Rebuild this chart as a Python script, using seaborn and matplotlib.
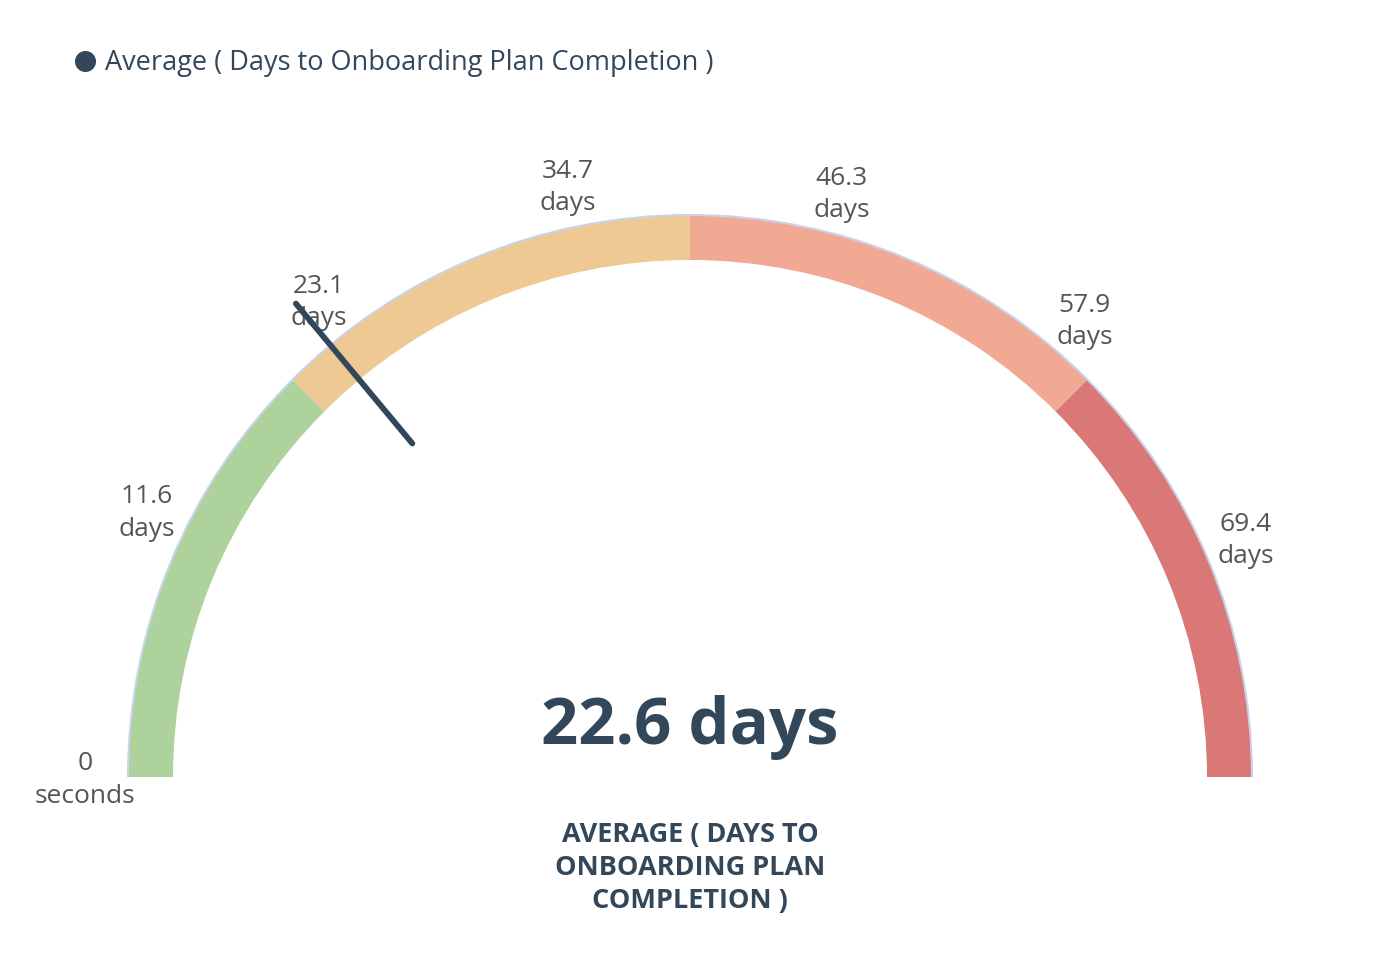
import numpy as np
import seaborn as sns
import matplotlib.pyplot as plt
from matplotlib.patches import Wedge, Arc

# data
gauge_min = 0
gauge_max = 81.0
band_edges = [0, 20.25, 40.5, 60.75, 81.0]
band_colors = ["#aed29b", "#efc993", "#f1a993", "#d97876"]
tick_values = [0, 11.6, 23.1, 34.7, 46.3, 57.9, 69.4]
tick_labels = ["0\nseconds", "11.6\ndays", "23.1\ndays", "34.7\ndays",
               "46.3\ndays", "57.9\ndays", "69.4\ndays"]
value = 22.6
value_label = "22.6 days"
series_name = "Average ( Days to Onboarding Plan Completion )"
title = "AVERAGE ( DAYS TO\nONBOARDING PLAN\nCOMPLETION )"

sns.set_theme(style="white")
plt.rcParams["font.family"] = ["Open Sans", "DejaVu Sans"]

navy = "#33475b"
grey = "#555555"

fig = plt.figure(figsize=(13.82, 9.6), dpi=100)
ax = fig.add_axes([0, 0, 1, 1])
ax.set_xlim(0, 1382)
ax.set_ylim(0, 960)
ax.set_aspect("equal")
ax.axis("off")

cx, cy = 690, 183
r_out, thick = 562, 45


def to_angle(v, stretch=1.0):
    return 180 - (v - gauge_min) / (gauge_max - gauge_min) * 180 * stretch


# colour bands
for lo, hi, col in zip(band_edges[:-1], band_edges[1:], band_colors):
    ax.add_patch(Wedge((cx, cy), r_out, to_angle(hi), to_angle(lo),
                       width=thick, facecolor=col, edgecolor="none"))
ax.add_patch(Arc((cx, cy), 2 * r_out, 2 * r_out, theta1=0, theta2=180,
                 color="#c9d3ec", lw=1.5))

# tick labels (they sit on a slightly stretched scale in the original)
for v, lab in zip(tick_values, tick_labels):
    a = np.radians(to_angle(v, stretch=1.016))
    ax.text(cx + 605 * np.cos(a), cy + 605 * np.sin(a) - 3, lab,
            ha="center", va="center", fontsize=19, color=grey,
            linespacing=1.38)

# needle
a = np.radians(to_angle(value))
r_in, r_tip = 434, 616
ax.plot([cx + r_in * np.cos(a), cx + r_tip * np.cos(a)],
        [cy + r_in * np.sin(a), cy + r_tip * np.sin(a)],
        color=navy, lw=4.2, solid_capstyle="round", zorder=5)

# value and title
ax.text(cx, 960 - 728, value_label, ha="center", va="center",
        fontsize=47, fontweight="bold", color=navy)
ax.text(cx, 960 - 868, title, ha="center", va="center", fontsize=19.5,
        fontweight="bold", color=navy, linespacing=1.35)

# legend
ax.scatter([85], [960 - 61], s=200, color=navy)
ax.text(105, 960 - 63, series_name, ha="left", va="center",
        fontsize=19.5, color=navy)

fig.savefig("out.png", dpi=100)
